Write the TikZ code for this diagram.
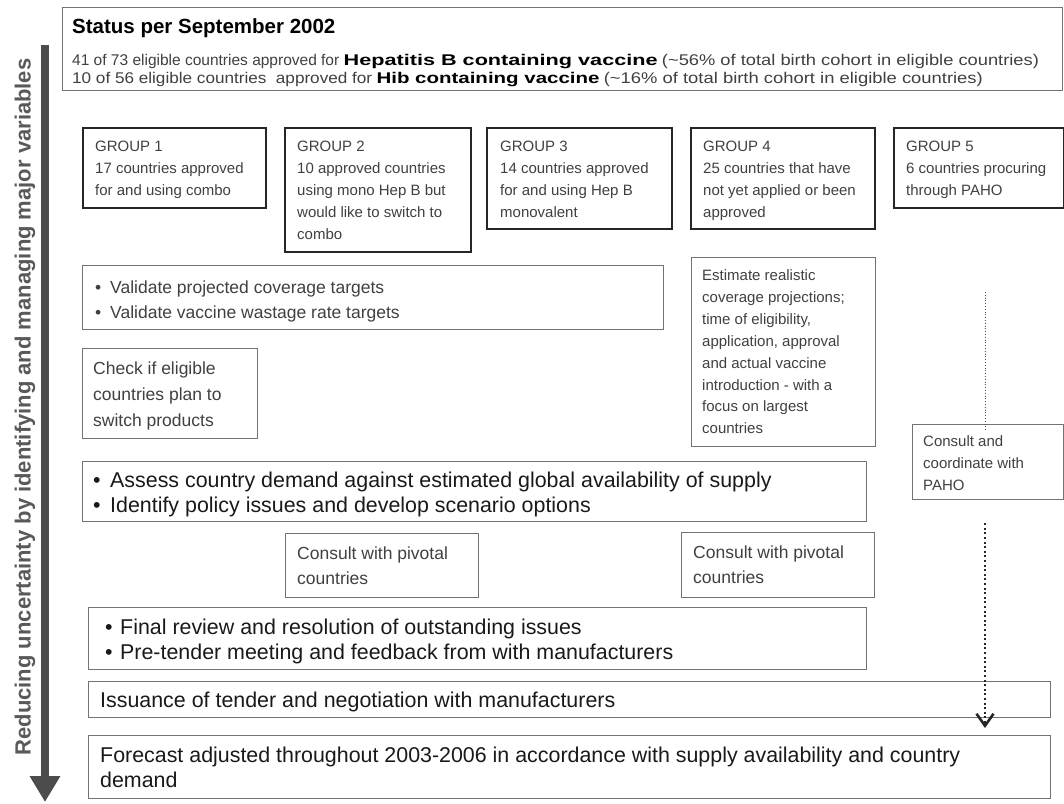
\documentclass[tikz,border=0pt]{standalone}
\usepackage{fontspec}
\setmainfont{Liberation Sans}
\usetikzlibrary{positioning, arrows.meta}

\newcommand{\itm}[1]{\makebox[#1][l]{\textbullet}}
\newcommand{\fitw}[2]{\resizebox{#1}{\height}{#2}}

\begin{document}
\begin{tikzpicture}[x=1pt, y=-1pt,
		grp/.style={draw=black!85, line width=2pt, anchor=north west, inner sep=0pt},
		box/.style={draw=black!55, line width=1.2pt, anchor=north west, inner sep=0pt},
		gtxt/.style={align=left, inner sep=0pt, text=black!75, font=\fontsize{15}{22}\selectfont},
		mtxt/.style={align=left, inner sep=0pt, text=black!75, font=\fontsize{17.5}{25}\selectfont},
		btxt/.style={align=left, inner sep=0pt, text=black!90, font=\fontsize{21.4}{25}\selectfont}]
		
		\useasboundingbox (0,0) rectangle (1064,803);
		
		%Status header
		\node[box, minimum width=1000pt, minimum height=83pt] (status) at (62,7) {};
		\node[below right=11pt and 10pt of status.north west, inner sep=0pt,
		      font=\fontsize{20.5}{24}\selectfont\bfseries] (statustitle) {Status per September 2002};
		\node[below right=47pt and 10pt of status.north west, align=left, inner sep=0pt,
		      text=black!75, font=\fontsize{15.5}{18}\selectfont] (statustext)
		      {41 of 73 eligible countries approved for \textcolor{black}{\fitw{314pt}{\textbf{Hepatitis B containing vaccine}}} \fitw{377pt}{(\textasciitilde56\% of total birth cohort in eligible countries)}\\
		       \fitw{300pt}{10 of 56 eligible countries\ \ approved for} \textcolor{black}{\fitw{223pt}{\textbf{Hib containing vaccine}}} \fitw{379pt}{(\textasciitilde16\% of total birth cohort in eligible countries)}};
		
		%Side arrow
		\coordinate (arrtop) at (45,45);
		\coordinate (arrbot) at (45,802);
		\draw[line width=8pt, draw=black!70, -{Triangle[width=29pt, length=26pt]}] (arrtop) -- (arrbot);
		\node[rotate=90, inner sep=0pt, text=black!65,
		      font=\fontsize{22}{26}\selectfont\bfseries] (sidelabel) at (25,407)
		      {Reducing uncertainty by identifying and managing major variables};
		
		%Groups
		\node[grp, minimum width=183pt, minimum height=80pt] (g1) at (82,127) {};
		\node[grp, minimum width=186pt, minimum height=124pt] (g2) at (284,127) {};
		\node[grp, minimum width=185pt, minimum height=101pt] (g3) at (486,127) {};
		\node[grp, minimum width=184pt, minimum height=101pt] (g4) at (690,127) {};
		\node[grp, minimum width=170pt, minimum height=80pt] (g5) at (893,127) {};
		\node[gtxt, below right=13.5pt and 13pt of g1.north west] (g1text) {GROUP 1\\17 countries approved\\for and using combo};
		\node[gtxt, below right=13.5pt and 13pt of g2.north west] (g2text) {GROUP 2\\10 approved countries\\using mono Hep B but\\would like to switch to\\combo};
		\node[gtxt, below right=13.5pt and 14pt of g3.north west] (g3text) {GROUP 3\\14 countries approved\\for and using Hep B\\monovalent};
		\node[gtxt, below right=13.5pt and 13pt of g4.north west] (g4text) {GROUP 4\\25 countries that have\\not yet applied or been\\approved};
		\node[gtxt, below right=13.5pt and 13pt of g5.north west] (g5text) {GROUP 5\\6 countries procuring\\through PAHO};
		
		%Validation and checks
		\node[box, minimum width=581pt, minimum height=64pt] (validate) at (82,265) {};
		\node[mtxt, below right=15.5pt and 13pt of validate.north west] (validatetext)
		      {\itm{15pt}Validate projected coverage targets\\\itm{15pt}Validate vaccine wastage rate targets};
		\node[box, minimum width=175pt, minimum height=90pt] (check) at (82,348) {};
		\node[mtxt, font=\fontsize{17.5}{26}\selectfont, below right=13.5pt and 11pt of check.north west] (checktext)
		      {Check if eligible\\countries plan to\\switch products};
		\node[box, minimum width=184pt, minimum height=189pt] (estimate) at (691,257) {};
		\node[gtxt, font=\fontsize{15}{21.9}\selectfont, below right=12.5pt and 11pt of estimate.north west] (estimatetext)
		      {Estimate realistic\\coverage projections;\\time of eligibility,\\application, approval\\and actual vaccine\\introduction - with a\\focus on largest\\countries};
		\node[box, minimum width=151pt, minimum height=75pt] (paho) at (912,424) {};
		\node[gtxt, below right=11.5pt and 11pt of paho.north west] (pahotext)
		      {Consult and\\coordinate with\\PAHO};
		
		%Demand and policy
		\node[box, minimum width=784pt, minimum height=60pt] (assess) at (82,461) {};
		\node[btxt, below right=11pt and 11pt of assess.north west] (assesstext)
		      {\itm{17pt}Assess country demand against estimated global availability of supply\\\itm{17pt}Identify policy issues and develop scenario options};
		\node[box, minimum width=193pt, minimum height=64pt] (pivot1) at (285,533) {};
		\node[mtxt, below right=13.5pt and 12pt of pivot1.north west] (pivot1text) {Consult with pivotal\\countries};
		\node[box, minimum width=193pt, minimum height=65pt] (pivot2) at (681,532) {};
		\node[mtxt, below right=13.5pt and 12pt of pivot2.north west] (pivot2text) {Consult with pivotal\\countries};
		
		%Tender
		\node[box, minimum width=778pt, minimum height=62pt] (final) at (88,607) {};
		\node[btxt, below right=12pt and 17pt of final.north west] (finaltext)
		      {\itm{15pt}Final review and resolution of outstanding issues\\\itm{15pt}Pre-tender meeting and feedback from with manufacturers};
		\node[box, minimum width=962pt, minimum height=36pt] (issue) at (88,681) {};
		\node[btxt, below right=11pt and 12pt of issue.north west] (issuetext)
		      {Issuance of tender and negotiation with manufacturers};
		\node[box, minimum width=962pt, minimum height=63pt] (forecast) at (88,735) {};
		\node[btxt, below right=12pt and 12pt of forecast.north west] (forecasttext)
		      {Forecast adjusted throughout 2003-2006 in accordance with supply availability and country\\demand};
		
		%PAHO track
		\coordinate (pahofrom) at (985,292);
		\draw[black!70, line width=0.8pt, dotted] (pahofrom) -- ([yshift=-6pt]paho.north -| pahofrom);
		\draw[black!85, line width=2pt, dash pattern=on 2pt off 2.6pt,
		      -{Straight Barb[length=12pt, width=17pt, line width=2.6pt]}]
		      ([yshift=-23pt]paho.south -| pahofrom) -- ([yshift=7pt]forecast.north -| pahofrom);
	\end{tikzpicture}
\end{document}
